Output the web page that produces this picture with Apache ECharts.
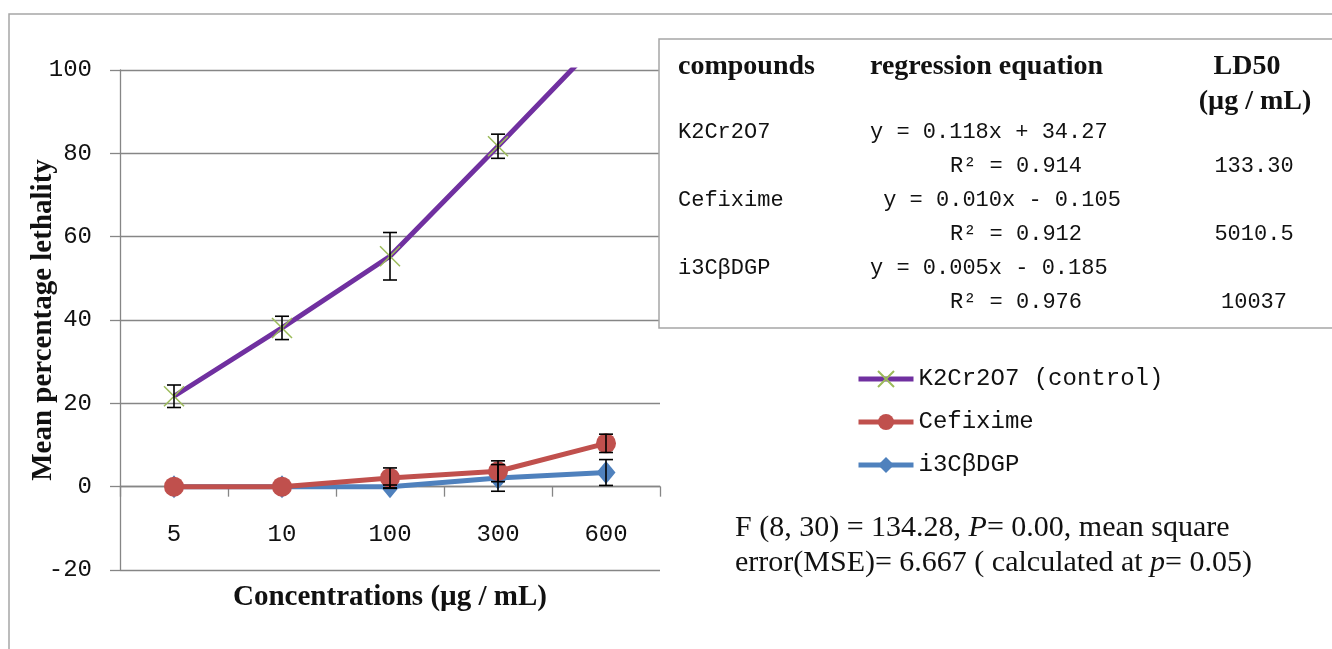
<!DOCTYPE html>
<html>
<head>
<meta charset="utf-8">
<script src="https://cdn.jsdelivr.net/npm/echarts@6/dist/echarts.min.js"></script>
<style>
  html, body { margin: 0; padding: 0; background: #fff; }
  #chart { width: 1332px; height: 649px; }
</style>
</head>
<body>
<div id="chart"></div>
<script>
// concentrations (ug/mL)
var categories = ['5', '10', '100', '300', '600'];

// mean percentage lethality and error (+/-)
var k2Values = [21.7, 38.1, 55.3, 81.7, 108.6];
var k2Err = [2.7, 2.8, 5.7, 2.9, 3.0];
var cefValues = [0, 0, 2.1, 3.7, 10.4];
var cefErr = [0, 0, 2.4, 2.5, 2.2];
var i3Values = [0, 0, 0, 2.1, 3.4];
var i3Err = [0, 0, 0.4, 3.2, 3.1];

var seriesNames = ['K2Cr2O7 (control)', 'Cefixime', 'i3CβDGP'];

// regression table
var compounds = ['K2Cr2O7', 'Cefixime', 'i3CβDGP'];
var equations = ['y = 0.118x + 34.27', ' y = 0.010x - 0.105', 'y = 0.005x - 0.185'];
var r2Values = ['R² = 0.914', 'R² = 0.912', 'R² = 0.976'];
var ld50Values = ['133.30', '5010.5', '10037'];

var MONO = '"Liberation Mono", "DejaVu Sans Mono", monospace';
var SERIF = '"Liberation Serif", "DejaVu Serif", serif';
var AXIS_GREY = '#868686';

function errData(values, errs) {
    return values.map(function (v, i) {
        return [i, v - errs[i], v + errs[i]];
    });
}

function renderErr(params, api) {
    var x = api.value(0);
    var lo = api.coord([x, api.value(1)]);
    var hi = api.coord([x, api.value(2)]);
    if (Math.abs(hi[1] - lo[1]) < 1) return null;
    var half = 7;
    var style = { stroke: '#000', lineWidth: 1.6 };
    return {
        type: 'group',
        children: [
            { type: 'line', shape: { x1: hi[0], y1: hi[1], x2: lo[0], y2: lo[1] }, style: style },
            { type: 'line', shape: { x1: hi[0] - half, y1: hi[1], x2: hi[0] + half, y2: hi[1] }, style: style },
            { type: 'line', shape: { x1: lo[0] - half, y1: lo[1], x2: lo[0] + half, y2: lo[1] }, style: style }
        ]
    };
}

function errSeries(values, errs) {
    return {
        type: 'custom',
        data: errData(values, errs),
        renderItem: renderErr,
        encode: { x: 0, y: [1, 2] },
        clip: true,
        z: 5,
        silent: true
    };
}

// table and notes as graphic elements
var graphics = [{
    type: 'rect',
    shape: { x: 9, y: 14, width: 1400, height: 700 },
    style: { fill: 'none', stroke: '#a6a6a6', lineWidth: 1.5 },
    z: -1
}, {
    type: 'rect',
    shape: { x: 659, y: 39, width: 700, height: 289 },
    style: { fill: '#fff', stroke: '#a6a6a6', lineWidth: 1.5 },
    z: 10
}];

function addText(text, x, y, font, align, weight) {
    graphics.push({
        type: 'text',
        x: x, y: y, z: 11,
        style: {
            text: text,
            fill: '#111',
            font: (weight || 'normal') + ' ' + font,
            align: align || 'left',
            verticalAlign: 'middle'
        }
    });
}

var headFont = '28px ' + SERIF;
var bodyFont = '22px ' + MONO;
addText('compounds', 678, 67, headFont, 'left', 'bold');
addText('regression equation', 870, 67, headFont, 'left', 'bold');
addText('LD50', 1247, 67, headFont, 'center', 'bold');
addText('(µg / mL)', 1255, 102, headFont, 'center', 'bold');
compounds.forEach(function (c, i) {
    var y = 132 + i * 68;
    addText(c, 678, y, bodyFont);
    addText(equations[i], 870, y, bodyFont);
    addText(r2Values[i], 950, y + 34, bodyFont);
    addText(ld50Values[i], 1254, y + 34, bodyFont, 'center');
});

graphics.push({
    type: 'text',
    x: 735, y: 511, z: 11,
    style: {
        text: 'F (8, 30) = 134.28, {i|P}= 0.00, mean square\nerror(MSE)= 6.667 ( calculated at {i|p}= 0.05)',
        font: '30px ' + SERIF,
        fill: '#111',
        lineHeight: 35,
        rich: {
            i: { font: 'italic 30px ' + SERIF, fill: '#111' }
        }
    }
});

var chart = echarts.init(document.getElementById('chart'));
chart.setOption({
    animation: false,
    backgroundColor: '#fff',
    grid: { left: 120, right: 672, top: 70, bottom: 79, containLabel: false, outerBoundsMode: 'none' },
    legend: {
        data: seriesNames,
        orient: 'vertical',
        left: 851,
        top: 362,
        itemWidth: 55,
        itemHeight: 20,
        itemGap: 19,
        lineStyle: { width: 5 },
        textStyle: { fontFamily: MONO, fontSize: 24, color: '#111' }
    },
    xAxis: [{
        // labels and title, kept at the bottom of the grid
        type: 'category',
        data: categories,
        position: 'bottom',
        name: 'Concentrations (µg / mL)',
        nameLocation: 'middle',
        nameGap: 13,
        nameMoveOverlap: false,
        nameTextStyle: { fontFamily: SERIF, fontSize: 29, fontWeight: 'bold', color: '#111' },
        axisLine: { show: false, onZero: false },
        axisTick: { show: false },
        axisLabel: { margin: -47, fontFamily: MONO, fontSize: 24, color: '#111' }
    }, {
        // axis line with ticks crossing at zero
        type: 'category',
        data: categories,
        position: 'bottom',
        axisLine: { onZero: true, lineStyle: { color: AXIS_GREY, width: 1.3 } },
        axisTick: { show: true, length: 10, lineStyle: { color: AXIS_GREY, width: 1.3 } },
        axisLabel: { show: false }
    }],
    yAxis: {
        type: 'value',
        min: -20,
        max: 100,
        interval: 20,
        name: 'Mean percentage lethality',
        nameLocation: 'middle',
        nameRotate: 90,
        nameGap: 62,
        nameMoveOverlap: false,
        nameTextStyle: { fontFamily: SERIF, fontSize: 29, fontWeight: 'bold', color: '#111' },
        axisLine: { show: true, lineStyle: { color: AXIS_GREY, width: 1.3 } },
        axisTick: { show: true, length: 10, lineStyle: { color: AXIS_GREY, width: 1.3 } },
        splitLine: { lineStyle: { color: AXIS_GREY, width: 1.3 } },
        axisLabel: { margin: 28, fontFamily: MONO, fontSize: 24, color: '#111' }
    },
    series: [{
        name: seriesNames[0],
        type: 'line',
        data: k2Values,
        symbol: 'path://M0 0L10 10M10 0L0 10',
        symbolSize: 20,
        itemStyle: { color: '#9bbb59', borderColor: '#9bbb59', borderWidth: 1.5 },
        lineStyle: { color: '#7030a0', width: 5 },
        clip: true,
        z: 2
    }, {
        name: seriesNames[1],
        type: 'line',
        data: cefValues,
        symbol: 'circle',
        symbolSize: 20,
        itemStyle: { color: '#c0504d' },
        lineStyle: { color: '#c0504d', width: 5 },
        clip: true,
        z: 4
    }, {
        name: seriesNames[2],
        type: 'line',
        data: i3Values,
        symbol: 'diamond',
        symbolSize: [19, 23],
        itemStyle: { color: '#4f81bd' },
        lineStyle: { color: '#4f81bd', width: 5 },
        clip: true,
        z: 3
    },
    errSeries(k2Values, k2Err),
    errSeries(cefValues, cefErr),
    errSeries(i3Values, i3Err)],
    graphic: graphics
});
</script>
</body>
</html>
